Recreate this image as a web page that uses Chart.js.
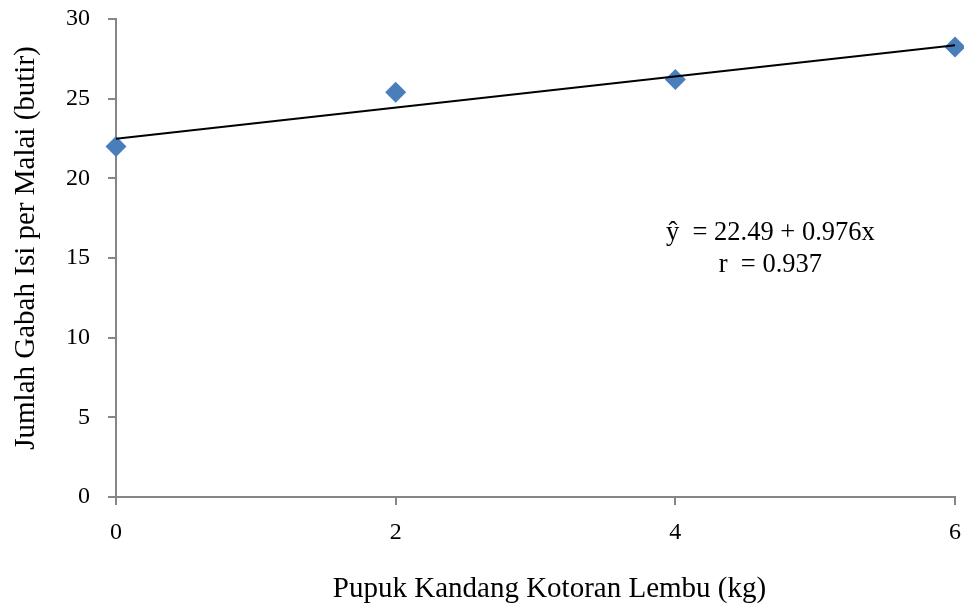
<!DOCTYPE html>
<html lang="en">
<head>
    <meta charset="UTF-8">
    <title>Jumlah Gabah Isi per Malai</title>
    <script src="https://cdn.jsdelivr.net/npm/chart.js"></script>
    <style>
        html, body { margin: 0; padding: 0; background: #fff; }
        canvas { display: block; }
    </style>
</head>
<body>
    <canvas id="chart" width="964" height="603"></canvas>
    <script>
        // observed points
        const doseKg = [0, 2, 4, 6];
        const gabahIsi = [22.0, 25.4, 26.2, 28.25];

        // regression line end points (ŷ = 22.49 + 0.976x)
        const trendX = [0, 6];
        const trendY = [22.49, 28.35];

        const xTicks = [0, 2, 4, 6];
        const yTicks = [0, 5, 10, 15, 20, 25, 30];

        const xTitle = 'Pupuk Kandang Kotoran Lembu (kg)';
        const yTitle = 'Jumlah Gabah Isi per Malai (butir)';
        const equationLines = ['ŷ  = 22.49 + 0.976x', 'r  = 0.937'];

        const serif = '"Liberation Serif", "Times New Roman", serif';
        const axisGray = '#868686';

        // axis titles and the regression equation, placed like the original figure
        const textPlugin = {
            id: 'texts',
            afterDraw(chart) {
                const { ctx, scales, chartArea } = chart;
                ctx.save();
                ctx.fillStyle = '#000';
                ctx.textAlign = 'center';
                ctx.textBaseline = 'alphabetic';

                ctx.font = '26.5px ' + serif;
                const cx = scales.x.getPixelForValue(4.68);
                const y0 = scales.y.getPixelForValue(16.15);
                ctx.fillText(equationLines[0], cx, y0);
                ctx.fillText(equationLines[1], cx, y0 + 32);

                ctx.font = '29px ' + serif;
                ctx.fillText(xTitle, (chartArea.left + chartArea.right) / 2 + 14, 597);

                ctx.translate(34, (chartArea.top + chartArea.bottom) / 2 - 10);
                ctx.rotate(-Math.PI / 2);
                ctx.fillText(yTitle, 0, 0);
                ctx.restore();
            }
        };

        new Chart(document.getElementById('chart'), {
            type: 'scatter',
            data: {
                datasets: [
                    {
                        type: 'line',
                        data: trendX.map((x, i) => ({ x, y: trendY[i] })),
                        borderColor: '#000',
                        borderWidth: 2,
                        pointRadius: 0,
                        fill: false,
                        clip: false
                    },
                    {
                        data: doseKg.map((x, i) => ({ x, y: gabahIsi[i] })),
                        pointStyle: 'rectRot',
                        pointRadius: 10.5,
                        backgroundColor: '#4a7ebb',
                        borderColor: '#4a7ebb',
                        borderWidth: 0,
                        clip: false
                    }
                ]
            },
            options: {
                responsive: false,
                animation: false,
                layout: { autoPadding: false, padding: { top: 19, right: 9, left: 0, bottom: 0 } },
                plugins: {
                    legend: { display: false },
                    tooltip: { enabled: false }
                },
                scales: {
                    x: {
                        type: 'linear',
                        min: 0,
                        max: 6,
                        afterBuildTicks: s => { s.ticks = xTicks.map(v => ({ value: v })); },
                        afterFit: s => { s.height = 106; s.paddingLeft = 0; s.paddingRight = 0; },
                        grid: { drawOnChartArea: false, drawTicks: true, tickLength: 8, color: axisGray, lineWidth: 2 },
                        border: { color: axisGray, width: 2 },
                        ticks: { color: '#000', font: { family: serif, size: 24 }, padding: 13 }
                    },
                    y: {
                        min: 0,
                        max: 30,
                        afterBuildTicks: s => { s.ticks = yTicks.map(v => ({ value: v })); },
                        afterFit: s => { s.width = 116; s.paddingTop = 0; s.paddingBottom = 0; },
                        grid: { drawOnChartArea: false, drawTicks: true, tickLength: 8, color: axisGray, lineWidth: 2 },
                        border: { color: axisGray, width: 2 },
                        ticks: { color: '#000', font: { family: serif, size: 24 }, padding: 18 }
                    }
                }
            },
            plugins: [textPlugin]
        });
    </script>
</body>
</html>
